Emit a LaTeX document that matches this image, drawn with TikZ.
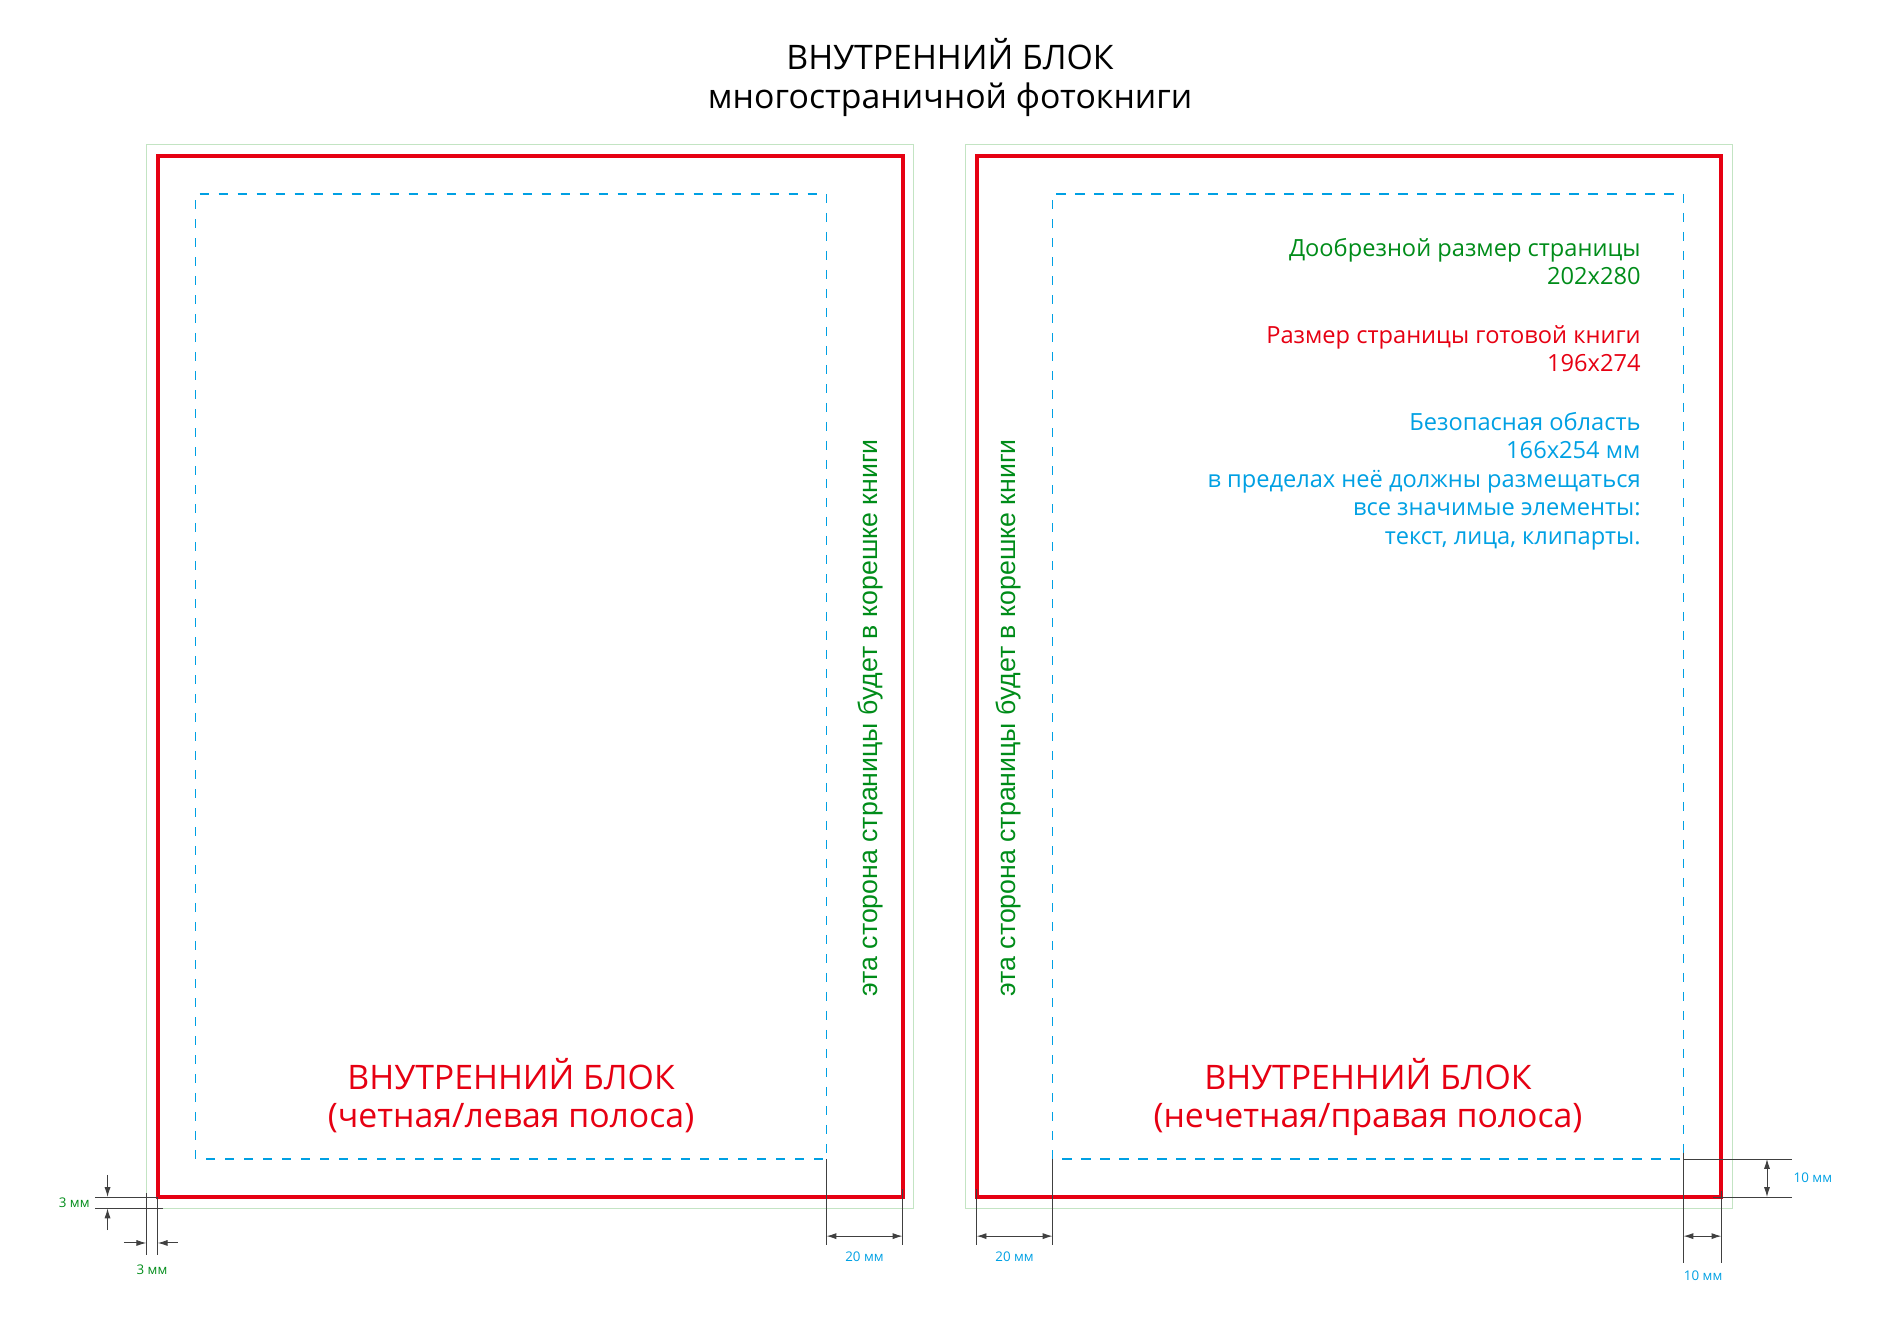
\documentclass[tikz,border=0pt]{standalone}
\usepackage{fontspec}
\setmainfont{Open Sans}
\newfontfamily\spinefont{Liberation Sans}
\usetikzlibrary{arrows.meta}
\usetikzlibrary{positioning}
\definecolor{trim-red}{RGB}{230,0,18}
\definecolor{mark-green}{RGB}{0,140,25}
\definecolor{bleed-pale}{RGB}{195,228,195}
\definecolor{safe-blue}{RGB}{0,160,227}
\tikzset{
  bleed-line/.style={draw=bleed-pale, line width=0.3mm},
  trim-line/.style={draw=trim-red, line width=1.05mm},
  safe-line/.style={draw=safe-blue, line width=0.4mm, dash pattern=on 2.4mm off 2.6mm},
  ext-line/.style={draw=black!75, line width=0.25mm},
  dim-line/.style={ext-line, {Latex[length=2.6mm,width=1.6mm]}-{Latex[length=2.6mm,width=1.6mm]}},
  dim-arrow/.style={ext-line, -{Latex[length=2.6mm,width=1.6mm]}},
  dim-label/.style={font=\fontsize{10}{12}\selectfont, inner sep=1pt},
  info-text/.style={anchor=base east, align=right, inner sep=0pt, font=\fontsize{17.7}{21.3}\selectfont},
  block-title/.style={anchor=base, align=center, inner sep=0pt, text=trim-red, font=\fontsize{25.3}{28}\selectfont},
  spine-note/.style={anchor=base, rotate=90, inner sep=0pt, text=mark-green, font=\spinefont\fontsize{20}{24}\selectfont},
}
% one page: bleed, trim and safe area
\newcommand{\tikzpage}[3]{%
% #1 name, #2 left edge of bleed, #3 safe-area inset from trim
\draw[bleed-line] (#2,32) rectangle ++(202,280);
\draw[trim-line] (#2+3,35) rectangle ++(196,274);
\draw[safe-line] (#2+3+#3,45) rectangle ++(166,254);
\coordinate (#1-safe-sw) at (#2+3+#3,45);
\coordinate (#1-safe-se) at (#2+3+#3+166,45);
}

\begin{document}
\begin{tikzpicture}[x=1mm, y=1mm]
\useasboundingbox (0,0) rectangle (500,350);
\node[anchor=base, align=center, inner sep=0pt, font=\fontsize{25.3}{29}\selectfont] (title) at (250,321.5)
  {ВНУТРЕННИЙ БЛОК\\многостраничной фотокниги};

\tikzpage{even}{38.5}{10}
\tikzpage{odd}{254}{20}

\node[block-title] (even-title) at (134.5,53.4) {ВНУТРЕННИЙ БЛОК\\(четная/левая полоса)};
\node[block-title] (odd-title) at (360,53.4) {ВНУТРЕННИЙ БЛОК\\(нечетная/правая полоса)};
\node[spine-note] (even-spine) at (230.8,161.1) {эта сторона страницы будет в корешке книги};
\node[spine-note] (odd-spine) at (267.2,161.1) {эта сторона страницы будет в корешке книги};

\node[info-text, text=mark-green] (size-bleed) at (431.8,275) {Дообрезной размер страницы\\202x280};
\node[info-text, text=trim-red] (size-trim) at (431.8,252.2) {Размер страницы готовой книги\\196x274};
\node[info-text, text=safe-blue] (size-safe) at (431.8,206.8)
  {Безопасная область\\166x254 мм\\в пределах неё должны размещаться\\все значимые элементы:\\текст, лица, клипарты.};

% bleed 3 mm
\draw[ext-line] (25,35) -- (41.5,35);
\draw[ext-line] (25,32) -- (43,32);
\draw[dim-arrow] (28.3,40.8) -- (28.3,35);
\draw[dim-arrow] (28.3,26.3) -- (28.3,32);
\node[dim-label, text=mark-green, anchor=east] (bleed-v) at (24,33.5) {3 мм};
\draw[ext-line] (38.5,36) -- (38.5,19.7);
\draw[ext-line] (41.5,35) -- (41.5,19.7);
\draw[dim-arrow] (32.6,22.9) -- (38.5,22.9);
\draw[dim-arrow] (46.8,22.9) -- (41.5,22.9);
\node[dim-label, text=mark-green] (bleed-h) at (40,15.8) {3 мм};

% spine 20 mm
\draw[ext-line] (even-safe-se) -- (217.5,22.4);
\draw[ext-line] (237.5,37) -- (237.5,22.4);
\draw[dim-line] (217.5,24.7) -- (237.5,24.7);
\node[dim-label, text=safe-blue] (even-spine-dim) at (227.5,19.2) {20 мм};
\draw[ext-line] (257,37) -- (257,22.4);
\draw[ext-line] (odd-safe-sw) -- (277,22.4);
\draw[dim-line] (257,24.7) -- (277,24.7);
\node[dim-label, text=safe-blue] (odd-spine-dim) at (267,19.2) {20 мм};

% margins 10 mm
\draw[ext-line] (odd-safe-se) -- (471.6,45);
\draw[ext-line] (450.8,35) -- (471.6,35);
\draw[dim-line] (465,45) -- (465,35);
\node[dim-label, text=safe-blue, anchor=west] (margin-v) at (471.6,40) {10 мм};
\draw[ext-line] (443,46.6) -- (443,17.6);
\draw[ext-line] (453,36.6) -- (453,17.6);
\draw[dim-line] (443,24.7) -- (453,24.7);
\node[dim-label, text=safe-blue] (margin-h) at (448.2,14.2) {10 мм};
\end{tikzpicture}
\end{document}
